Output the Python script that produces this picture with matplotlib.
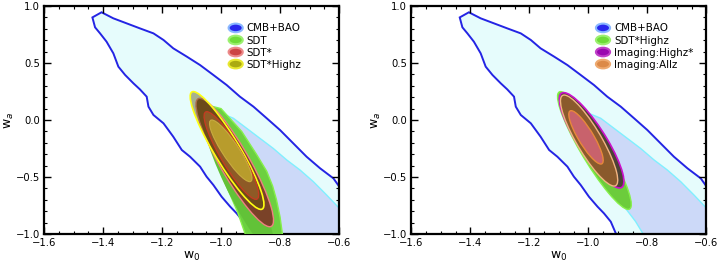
import math

import matplotlib
matplotlib.use("Agg")
import matplotlib.pyplot as plt
from matplotlib.legend_handler import HandlerPatch
from matplotlib.patches import Ellipse, Patch, Polygon
from matplotlib.ticker import MultipleLocator


# CMB+BAO contours, (w0, wa) vertices
CMB_OUTER_W0 = [
	-1.436, -1.405, -1.365, -1.320, -1.275, -1.229, -1.195, -1.162, -1.116, -1.071,
	-1.026, -0.981, -0.936, -0.890, -0.845, -0.800, -0.755, -0.710, -0.664, -0.619,
	-0.599, -0.560, -0.560, -0.880, -0.907, -0.924, -0.947, -0.969, -0.998, -1.026,
	-1.049, -1.071, -1.105, -1.133, -1.162, -1.195, -1.229, -1.246, -1.252, -1.275,
	-1.297, -1.325, -1.348, -1.365, -1.388, -1.410, -1.427,
]
CMB_OUTER_WA = [
	0.900, 0.945, 0.892, 0.848, 0.804, 0.760, 0.702, 0.629, 0.556, 0.482,
	0.395, 0.307, 0.205, 0.117, 0.015, -0.088, -0.205, -0.322, -0.424, -0.512,
	-0.585, -0.680, -1.100, -1.100, -0.994, -0.892, -0.819, -0.760, -0.673, -0.570,
	-0.497, -0.409, -0.322, -0.263, -0.146, -0.029, 0.044, 0.117, 0.205, 0.269,
	0.322, 0.395, 0.468, 0.585, 0.687, 0.760, 0.813,
]
CMB_INNER_W0 = [
	-0.998, -0.958, -0.913, -0.868, -0.823, -0.777, -0.732, -0.687, -0.642, -0.599,
	-0.560, -0.560, -0.800, -0.812, -0.840, -0.874, -0.910, -0.945, -0.975, -1.000,
	-1.010,
]
CMB_INNER_WA = [
	0.058, 0.015, -0.073, -0.161, -0.249, -0.351, -0.439, -0.541, -0.658, -0.775,
	-0.880, -1.100, -1.100, -1.009, -0.890, -0.775, -0.600, -0.400, -0.200, -0.050,
	0.030,
]

# SDT outer contour (runs off the bottom of the plot)
SDT_OUTER_W0 = [
	-1.060, -1.000, -0.930, -0.880, -0.845, -0.825, -0.812, -0.800, -0.792,
	-0.795, -0.860, -0.912, -0.918, -0.945, -0.985, -1.020, -1.050, -1.072,
]
SDT_OUTER_WA = [
	0.140, 0.100, -0.100, -0.300, -0.450, -0.580, -0.700, -0.850, -1.000,
	-1.100, -1.150, -1.100, -1.000, -0.800, -0.560, -0.340, -0.150, 0.020,
]

# elliptical contours: (top w0, top wa, bottom w0, bottom wa, width in w0)
SDT_INNER = (-1.050, 0.050, -0.830, -1.150, 0.100)
SDT_STAR_OUTER = (-1.073, 0.190, -0.834, -0.936, 0.112)
SDT_STAR_INNER = (-1.049, 0.073, -0.881, -0.696, 0.080)
SDT_STAR_HIGHZ_OUTER = (-1.095, 0.249, -0.864, -0.784, 0.098)
SDT_STAR_HIGHZ_INNER = (-1.032, 0.000, -0.902, -0.541, 0.064)
IMAGING_HIGHZ_OUTER = (-1.085, 0.240, -0.893, -0.596, 0.108)
IMAGING_HIGHZ_INNER = (-1.061, 0.094, -0.931, -0.497, 0.070)
IMAGING_ALLZ_OUTER = (-1.083, 0.219, -0.912, -0.579, 0.094)
IMAGING_ALLZ_INNER = (-1.059, 0.082, -0.957, -0.386, 0.058)

LEFT_LABELS = ["CMB+BAO", "SDT", "SDT*", "SDT*Highz"]
RIGHT_LABELS = ["CMB+BAO", "SDT*Highz", "Imaging:Highz*", "Imaging:Allz"]

X_TICKS = [-1.6, -1.4, -1.2, -1.0, -0.8, -0.6]
Y_TICKS = [-1.0, -0.5, 0.0, 0.5, 1.0]

BLUE_LINE = "#2424e4"
CYAN_LINE = "#80f0ff"
CMB_OUTER_FILL = "#e6fcfc"
CMB_INNER_FILL = "#ccd9f8"


def contour_ellipse(spec, **style):
	top_w0, top_wa, bottom_w0, bottom_wa, width = spec
	dx = bottom_w0 - top_w0
	dy = bottom_wa - top_wa
	center = ((top_w0 + bottom_w0) / 2, (top_wa + bottom_wa) / 2)
	angle = math.degrees(math.atan2(dy, dx))
	return Ellipse(center, math.hypot(dx, dy), width, angle=angle, **style)


def legend_ellipse(legend, orig_handle, xdescent, ydescent, width, height, fontsize):
	return Ellipse((width / 2 - xdescent, height / 2 - ydescent), width * 0.95, height * 1.05)


def draw_cmb(axis):
	axis.add_patch(Polygon(list(zip(CMB_OUTER_W0, CMB_OUTER_WA)), closed=True,
		facecolor=CMB_OUTER_FILL, edgecolor=BLUE_LINE, linewidth=1.4, zorder=1))
	axis.add_patch(Polygon(list(zip(CMB_INNER_W0, CMB_INNER_WA)), closed=True,
		facecolor=CMB_INNER_FILL, edgecolor=CYAN_LINE, linewidth=1.0, zorder=2))


def style_axis(axis, handles, labels):
	axis.set_xlim(-1.6, -0.6)
	axis.set_ylim(-1.0, 1.0)
	axis.set_xticks(X_TICKS)
	axis.set_yticks(Y_TICKS)
	axis.xaxis.set_minor_locator(MultipleLocator(0.05))
	axis.yaxis.set_minor_locator(MultipleLocator(0.1))
	axis.tick_params(which="both", direction="in", top=True, right=True, labelsize=7.2, pad=3)
	axis.tick_params(which="major", length=5, width=1)
	axis.tick_params(which="minor", length=2.5, width=0.8)
	for spine in axis.spines.values():
		spine.set_linewidth(1.6)
	axis.set_xlabel(r"w$_0$", fontsize=9, labelpad=1)
	axis.set_ylabel(r"w$_a$", fontsize=9, labelpad=0)
	axis.legend(
		handles=handles,
		labels=labels,
		handler_map={Patch: HandlerPatch(patch_func=legend_ellipse)},
		loc="upper left",
		bbox_to_anchor=(0.6, 0.955),
		frameon=False,
		fontsize=7.4,
		handlelength=1.45,
		handleheight=0.85,
		handletextpad=0.35,
		labelspacing=0.2,
		borderpad=0.2,
	)


def plot_left(axis):
	draw_cmb(axis)
	axis.add_patch(Polygon(list(zip(SDT_OUTER_W0, SDT_OUTER_WA)), closed=True,
		facecolor="#6cd040", edgecolor="#86f04a", linewidth=1.0, zorder=3))
	axis.add_patch(contour_ellipse(SDT_INNER, facecolor="#62c238", edgecolor="none", zorder=4))
	axis.add_patch(contour_ellipse(SDT_STAR_OUTER, facecolor="#7a4228", edgecolor="#ee8080",
		linewidth=1.0, zorder=5))
	axis.add_patch(contour_ellipse(SDT_STAR_HIGHZ_OUTER, facecolor=(0.36, 0.34, 0.04, 0.45),
		edgecolor="#ffff10", linewidth=1.2, zorder=6))
	axis.add_patch(contour_ellipse(SDT_STAR_INNER, facecolor="#8e5a26", edgecolor="#c83a22",
		linewidth=0.9, zorder=7))
	axis.add_patch(contour_ellipse(SDT_STAR_HIGHZ_INNER, facecolor="#b89c2c", edgecolor="#c8ac40",
		linewidth=0.8, zorder=8))

	handles = [
		Patch(facecolor="#2828ee", edgecolor="#8ab8ff", linewidth=1.5),
		Patch(facecolor="#6edc38", edgecolor="#9cf070", linewidth=1.5),
		Patch(facecolor="#cc4444", edgecolor="#ec8a8a", linewidth=1.5),
		Patch(facecolor="#aaaa10", edgecolor="#e8e830", linewidth=1.5),
	]
	style_axis(axis, handles, LEFT_LABELS)


def plot_right(axis):
	draw_cmb(axis)
	axis.add_patch(contour_ellipse(SDT_STAR_HIGHZ_OUTER, facecolor="#6ccc3c", edgecolor="#86f04a",
		linewidth=1.0, zorder=3))
	axis.add_patch(contour_ellipse(SDT_STAR_HIGHZ_INNER, facecolor="#62c238", edgecolor="none", zorder=4))
	axis.add_patch(contour_ellipse(IMAGING_HIGHZ_OUTER, facecolor="#4c4236", edgecolor="#cc10cc",
		linewidth=1.2, zorder=5))
	axis.add_patch(contour_ellipse(IMAGING_HIGHZ_INNER, facecolor="#a0305a", edgecolor="#b02070",
		linewidth=0.8, zorder=6))
	axis.add_patch(contour_ellipse(IMAGING_ALLZ_OUTER, facecolor="#8a5a2c", edgecolor="#f2b482",
		linewidth=1.0, zorder=7))
	axis.add_patch(contour_ellipse(IMAGING_ALLZ_INNER, facecolor="#c8626c", edgecolor="#e8883a",
		linewidth=1.0, zorder=8))

	handles = [
		Patch(facecolor="#2828ee", edgecolor="#8ab8ff", linewidth=1.5),
		Patch(facecolor="#6edc38", edgecolor="#9cf070", linewidth=1.5),
		Patch(facecolor="#9a08b0", edgecolor="#c040c8", linewidth=1.5),
		Patch(facecolor="#dc8a48", edgecolor="#eeaa70", linewidth=1.5),
	]
	style_axis(axis, handles, RIGHT_LABELS)


def main() -> None:
	fig = plt.figure(figsize=(7.18, 2.64), dpi=100)
	left_axis = fig.add_axes([0.0613, 0.1136, 0.4109, 0.8636])
	right_axis = fig.add_axes([0.5729, 0.1136, 0.4109, 0.8636])
	plot_left(left_axis)
	plot_right(right_axis)
	fig.savefig("out.png", dpi=100)


if __name__ == "__main__":
	main()
